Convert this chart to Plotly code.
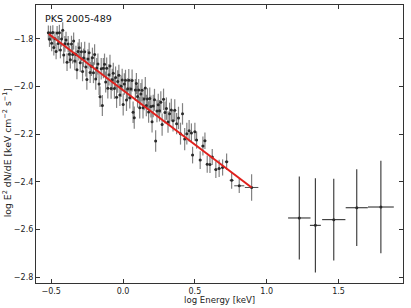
import plotly.graph_objects as go

# Dense low-energy spectrum (log keV, log E^2 dN/dE)
x_lo = [-0.520,-0.512,-0.505,-0.497,-0.489,-0.482,-0.474,-0.466,-0.459,-0.451,
        -0.443,-0.436,-0.428,-0.420,-0.413,-0.405,-0.397,-0.390,-0.382,-0.374,
        -0.367,-0.359,-0.351,-0.344,-0.336,-0.328,-0.321,-0.313,-0.305,-0.298,
        -0.290,-0.282,-0.275,-0.267,-0.259,-0.252,-0.244,-0.236,-0.229,-0.221,
        -0.213,-0.206,-0.198,-0.190,-0.183,-0.175,-0.167,-0.160,-0.152,-0.144,
        -0.137,-0.129,-0.121,-0.114,-0.106,-0.098,-0.091,-0.083,-0.075,-0.068,
        -0.060,-0.052,-0.045,-0.037,-0.029,-0.022,-0.014,-0.006,0.001,0.009,
        0.017,0.024,0.032,0.040,0.047,0.055,0.063,0.070,0.078,0.086,
        0.093,0.101,0.109,0.116,0.124,0.132,0.139,0.147,0.155,0.162,
        0.170,0.178,0.186,0.194,0.202,0.210,0.219,0.227,0.236,0.245,
        0.254,0.263,0.272,0.282,0.292,0.302,0.313,0.324,0.336,0.348,
        0.360,0.373,0.386,0.400,0.414,0.429,0.444,0.460,
        0.476,0.484,0.500,0.512,0.537,0.556,0.570,0.586,0.605,0.621,
        0.646,0.669,0.693,0.721,0.756,0.809,0.895]
y_lo = [-1.774,-1.802,-1.776,-1.819,-1.773,-1.836,-1.800,-1.853,-1.776,-1.820,
        -1.774,-1.847,-1.801,-1.764,-1.868,-1.821,-1.805,-1.898,-1.822,-1.865,
        -1.888,-1.822,-1.866,-1.809,-1.893,-1.866,-1.930,-1.853,-1.837,-1.900,
        -1.854,-1.937,-1.880,-1.854,-1.918,-1.971,-1.885,-1.858,-1.941,-1.915,
        -1.879,-1.942,-1.866,-1.969,-1.922,-1.906,-1.990,-2.043,-1.926,-2.080,
        -1.923,-1.907,-1.981,-1.924,-2.007,-1.951,-1.914,-2.008,-1.972,-1.945,
        -2.008,-1.962,-2.045,-1.979,-1.953,-2.036,-1.999,-1.973,-2.076,-1.990,
        -1.974,-2.057,-2.010,-1.974,-2.047,-2.011,-1.975,-2.108,-2.131,-2.015,
        -1.988,-2.042,-2.015,-2.089,-2.032,-2.016,-2.089,-2.053,-2.006,-2.080,
        -2.053,-2.107,-2.051,-2.084,-2.148,-2.082,-2.056,-2.229,-2.103,-2.077,
        -2.102,-2.066,-2.160,-2.054,-2.109,-2.093,-2.149,-2.114,-2.099,-2.144,
        -2.100,-2.156,-2.132,-2.198,-2.115,-2.221,-2.198,-2.186,
        -2.195,-2.288,-2.190,-2.225,-2.309,-2.250,-2.228,-2.326,-2.328,-2.296,
        -2.349,-2.344,-2.340,-2.316,-2.394,-2.417,-2.424]
yerr_lo = [0.030,0.032,0.031,0.033,0.030,0.034,0.031,0.033,0.030,0.032,
           0.033,0.035,0.032,0.034,0.036,0.033,0.035,0.037,0.034,0.036,
           0.037,0.035,0.038,0.036,0.039,0.037,0.040,0.038,0.036,0.039,
           0.040,0.041,0.039,0.042,0.040,0.043,0.041,0.042,0.044,0.041,
           0.042,0.044,0.043,0.045,0.042,0.044,0.046,0.043,0.045,0.044,
           0.043,0.045,0.044,0.046,0.043,0.045,0.047,0.044,0.046,0.045,
           0.044,0.046,0.045,0.047,0.044,0.046,0.045,0.047,0.046,0.045,
           0.044,0.046,0.045,0.047,0.046,0.044,0.046,0.045,0.047,0.046,
           0.045,0.047,0.046,0.045,0.047,0.046,0.045,0.047,0.046,0.045,
           0.046,0.045,0.047,0.046,0.045,0.047,0.046,0.045,0.047,0.046,
           0.045,0.046,0.047,0.045,0.046,0.047,0.045,0.046,0.047,0.045,
           0.046,0.045,0.047,0.046,0.045,0.047,0.046,0.045,
           0.040,0.035,0.038,0.036,0.037,0.040,0.035,0.036,0.035,0.034,
           0.035,0.036,0.034,0.035,0.035,0.030,0.056]
xerr_lo = [0.004]*118 + [0.006,0.007,0.007,0.008,0.009,0.009,0.009,0.009,0.009,0.009,
                          0.010,0.010,0.011,0.012,0.014,0.035,0.047]

# Sparse high-energy points
x_hi = [1.227, 1.339, 1.467, 1.627, 1.795]
y_hi = [-2.552, -2.583, -2.559, -2.509, -2.506]
yerr_hi = [0.174, 0.198, 0.172, 0.161, 0.194]
xerr_hi = [0.078, 0.038, 0.081, 0.077, 0.090]

# Power-law model
model_x = [-0.517, 0.895]
model_y = [-1.780, -2.424]

x_ticks = [-0.5, 0.0, 0.5, 1.0, 1.5]
y_ticks = [-2.8, -2.6, -2.4, -2.2, -2.0, -1.8]

FONT = "DejaVu Sans"
AX = "#333333"

fig = go.Figure()
fig.add_trace(go.Scatter(
    x=x_lo, y=y_lo, mode="markers",
    marker=dict(size=3, color="#2a2a2a"),
    error_y=dict(type="data", array=yerr_lo, color="rgba(90,90,90,0.75)", thickness=1.2, width=0),
    error_x=dict(type="data", array=xerr_lo, color="rgba(60,60,60,0.9)", thickness=1, width=0),
    showlegend=False))
fig.add_trace(go.Scatter(
    x=x_hi, y=y_hi, mode="markers",
    marker=dict(size=3, color="#2a2a2a"),
    error_y=dict(type="data", array=yerr_hi, color="#333333", thickness=1.1, width=0),
    error_x=dict(type="data", array=xerr_hi, color="#333333", thickness=1.1, width=0),
    showlegend=False))
fig.add_trace(go.Scatter(
    x=model_x, y=model_y, mode="lines",
    line=dict(color="#e0201c", width=2), showlegend=False))

axis_common = dict(showline=True, linecolor=AX, linewidth=1.2, mirror="ticks",
                   ticks="inside", ticklen=4, tickcolor=AX, tickwidth=1,
                   showgrid=False, zeroline=False, automargin=False,
                   tickfont=dict(family=FONT, size=8, color="#222"))

fig.update_xaxes(range=[-0.606, 1.949], tickvals=x_ticks, tickformat=".1f", **axis_common)
fig.update_yaxes(range=[-2.825, -1.658], tickvals=y_ticks, tickformat=".1f", **axis_common)

fig.add_annotation(text="log Energy [keV]", xref="paper", yref="paper", x=0.5, y=-0.0624,
                   xanchor="center", yanchor="middle", showarrow=False,
                   font=dict(family=FONT, size=8.6, color="#222"))
fig.add_annotation(text="log E<sup>2</sup> dN/dE [keV cm<sup>−2</sup> s<sup>−1</sup>]",
                   xref="paper", yref="paper", x=-0.0797, y=0.469, textangle=-90,
                   xanchor="center", yanchor="middle", showarrow=False,
                   font=dict(family=FONT, size=9.3, color="#222"))
fig.add_annotation(text="PKS 2005-489", xref="paper", yref="paper", x=0.02, y=0.95,
                   xanchor="left", yanchor="middle", showarrow=False,
                   font=dict(family=FONT, size=9.5, color="#111"))

fig.update_layout(width=411, height=308, margin=dict(l=36, r=8, t=5, b=25),
                  paper_bgcolor="white", plot_bgcolor="white")

fig.write_html("out.html", config={"displayModeBar": False},
               post_script="document.body.style.margin='0px';document.body.style.overflow='hidden';")
